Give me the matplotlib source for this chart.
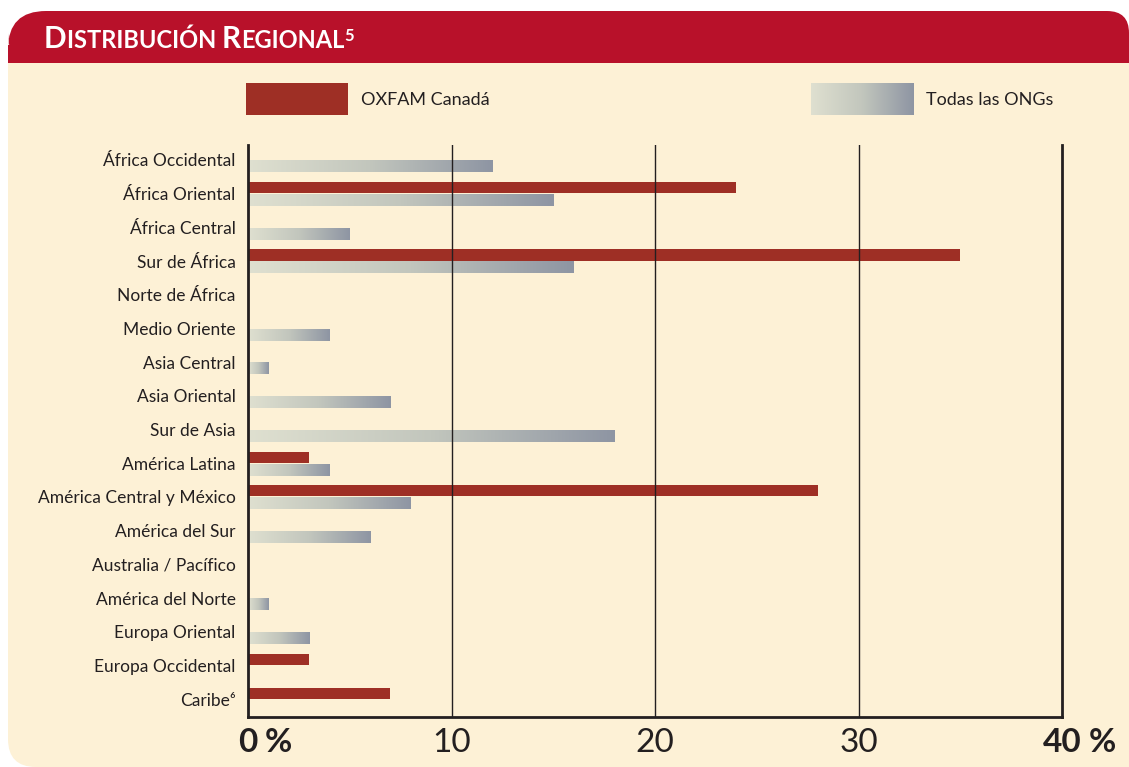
import numpy as np
import matplotlib
matplotlib.use("Agg")
import matplotlib.pyplot as plt
from matplotlib.patches import FancyBboxPatch, Rectangle
from matplotlib.colors import LinearSegmentedColormap

plt.rcParams['font.family'] = ['Lato', 'DejaVu Sans']

categories = ["África Occidental", "África Oriental", "África Central", "Sur de África",
              "Norte de África", "Medio Oriente", "Asia Central", "Asia Oriental",
              "Sur de Asia", "América Latina", "América Central y México",
              "América del Sur", "Australia / Pacífico", "América del Norte",
              "Europa Oriental", "Europa Occidental", "Caribe⁶"]
oxfam = [0, 24, 0, 35, 0, 0, 0, 0, 0, 3, 28, 0, 0, 0, 0, 3, 7]
todas = [12, 15, 5, 16, 0, 4, 1, 7, 18, 4, 8, 6, 0, 1, 3, 0, 0]
xticks = [0, 10, 20, 30, 40]
xticklabels = ["0", "10", "20", "30", "40"]
title_parts = [("D", "big"), ("ISTRIBUCIÓN ", "small"), ("R", "big"), ("EGIONAL", "small"), ("5", "sup")]
legend_labels = ["OXFAM Canadá", "Todas las ONGs"]

W, H = 1129, 767
RED_HDR = "#b8112a"
CREAM = "#fdf1d6"
RED_BAR = "#9e2f25"
TXT = "#231f20"
grad_cmap = LinearSegmentedColormap.from_list("g", ["#dfe0d0", "#c2c6bd", "#8e95a3"])

fig = plt.figure(figsize=(W / 100, H / 100), dpi=100)
fig.patch.set_facecolor("white")

# background in pixel coordinates
bg = fig.add_axes([0, 0, 1, 1], zorder=-5)
bg.set_xlim(0, W)
bg.set_ylim(H, 0)
bg.axis("off")
bg.add_patch(FancyBboxPatch((8, 30), 1180, 737, boxstyle="round,pad=0,rounding_size=28",
                            fc=CREAM, ec="none"))
bg.add_patch(FancyBboxPatch((8, 11), 700, 60, boxstyle="round,pad=0,rounding_size=38",
                            fc=RED_HDR, ec="none"))
bg.add_patch(FancyBboxPatch((500, 11), 629, 60, boxstyle="round,pad=0,rounding_size=22",
                            fc=RED_HDR, ec="none"))
bg.add_patch(Rectangle((8, 45), 1125, 18, fc=RED_HDR, ec="none"))
bg.add_patch(Rectangle((8, 63), 1125, 12, fc=CREAM, ec="none"))

# legend
bg.add_patch(Rectangle((246, 83), 102, 32, fc=RED_BAR, ec="none"))
bg.text(361, 100, legend_labels[0], fontsize=13, color=TXT, va="center", ha="left")
gimg = np.linspace(0, 1, 256).reshape(1, -1)
bg.imshow(gimg, extent=[811, 914, 115, 83], cmap=grad_cmap, aspect="auto", zorder=2)
bg.text(926, 100, legend_labels[1], fontsize=13, color=TXT, va="center", ha="left")
bg.set_xlim(0, W)
bg.set_ylim(H, 0)

# main axes
ax = fig.add_axes([248 / W, 50 / H, 814 / W, 572 / H])
ax.set_facecolor("none")
n = len(categories)
y = np.arange(n)
h = 0.33
ax.barh(y - 0.18, oxfam, height=h, color=RED_BAR, zorder=3)
tb = ax.barh(y + 0.2, todas, height=h, color="none", zorder=3)
for rect, v in zip(tb.patches, todas):
    if v <= 0:
        continue
    y0 = rect.get_y()
    ax.imshow(gimg, extent=[0, v, y0 + rect.get_height(), y0], cmap=grad_cmap,
              aspect="auto", zorder=3)
ax.set_xlim(0, 40)
ax.set_ylim(16.53, -0.445)
ax.set_yticks(y)
ax.set_yticklabels(categories, fontsize=12.5, color=TXT)
ax.tick_params(axis="y", length=0, pad=9)
ax.set_xticks(xticks)
ax.set_xticklabels(xticklabels, fontsize=24, color=TXT)
ax.tick_params(axis="x", length=0, pad=8)
tl = ax.get_xticklabels()
for t in (tl[0], tl[-1]):
    t.set_fontweight("bold")
for t in (tl[0], tl[-1]):
    ax.annotate("%", xy=(1, 0), xycoords=t, xytext=(5, 0), textcoords="offset points",
                ha="left", va="bottom", fontsize=24, fontweight="bold", color=TXT)
for xv in xticks[1:-1]:
    ax.axvline(xv, color=TXT, lw=1.0, zorder=4)
for s in ["left", "bottom", "right"]:
    ax.spines[s].set_linewidth(2.0)
    ax.spines[s].set_color(TXT)
    ax.spines[s].set_zorder(5)
ax.spines["top"].set_visible(False)

# title with small caps
fig.canvas.draw()
r = fig.canvas.get_renderer()
x = 44
base = 48
sizes = {"big": 21.5, "small": 17, "sup": 12}
for txt, kind in title_parts:
    yy = base - (7 if kind == "sup" else 0)
    t = fig.text(x / W, 1 - yy / H, txt, fontsize=sizes[kind], fontweight="bold",
                 color="white", ha="left", va="baseline")
    bb = t.get_window_extent(r)
    x += bb.width

fig.savefig("out.png", dpi=100, facecolor=fig.get_facecolor())
